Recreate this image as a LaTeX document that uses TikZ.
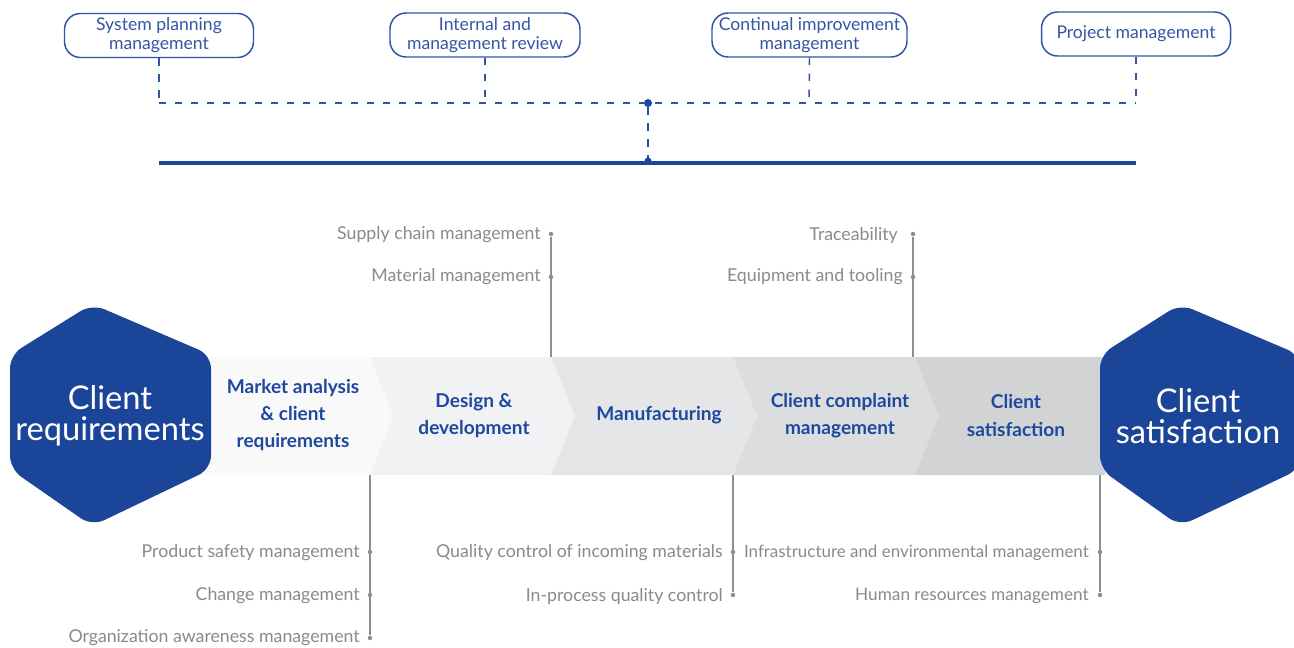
\documentclass[tikz,border=0pt]{standalone}
\usepackage{fontspec}
\setmainfont{Lato}
\definecolor{hexblue}{HTML}{1B4599}
\definecolor{boxblue}{HTML}{2C55A3}
\definecolor{toptext}{HTML}{3456A5}
\definecolor{bandtext}{HTML}{1E489E}
\definecolor{gline}{HTML}{8E8E8E}
\definecolor{gtext}{HTML}{8A8A8A}
\definecolor{segA}{HTML}{F9F9FA}
\definecolor{segB}{HTML}{F1F2F4}
\definecolor{segC}{HTML}{E5E6E8}
\definecolor{segD}{HTML}{DCDDDF}
\definecolor{segE}{HTML}{D2D3D5}
\tikzset{
  topbox/.style={draw=boxblue, line width=1.1pt, fill=white, rounded corners=12pt,
    align=center, text=toptext, inner sep=0pt, minimum height=44*0.75pt,
    font=\fontsize{13.2pt}{14.25pt}\selectfont},
  bdash/.style={draw=boxblue, line width=1.1pt, dash pattern=on 5.5pt off 6.5pt},
  bandlabel/.style={align=center, text=bandtext, font=\bfseries\fontsize{14.3pt}{20.6pt}\selectfont},
  hexlabel/.style={align=center, text=white, font=\fontsize{24.5pt}{23.5pt}\selectfont},
  gdot/.style={circle, fill=gline, inner sep=0pt, minimum size=4.5*0.75pt},
  glab/.style={anchor=east, text=gtext, inner sep=0pt, font=\fontsize{13.3pt}{15pt}\selectfont},
  glabs/.style={glab, font=\fontsize{12.7pt}{15pt}\selectfont},
  gl/.style={draw=gline, line width=1pt},
}
\begin{document}
\begin{tikzpicture}[x=0.75pt,y=-0.75pt]
\clip (0,0) rectangle (1294,648);
\fill[white] (0,0) rectangle (1294,648);

% ---- top boxes
\node[topbox, minimum width=189*0.75pt] (b1) at (159,35.5) {System planning\\management};
\node[topbox, minimum width=190*0.75pt] (b2) at (485,35) {Internal and\\management review};
\node[topbox, minimum width=195*0.75pt] (b3) at (809.5,35) {Continual improvement\\management};
\node[topbox, minimum width=189*0.75pt] (b4) at (1136,34) {Project management};

\coordinate (h1) at (159,103);
\coordinate (h2) at (485,103);
\coordinate (h3) at (809,103);
\coordinate (h4) at (1136,103);
\node[circle, fill=hexblue, inner sep=0pt, minimum size=8*0.75pt] (hub) at (648,103) {};
\coordinate (base) at (648,161);
\coordinate (tl) at (159,163);
\coordinate (tr) at (1136,163);

\draw[bdash] (b1.south) -- (h1);
\draw[bdash] (b2.south) -- (h2);
\draw[bdash] (b3.south) -- (h3);
\draw[bdash] (b4.south) -- (h4);
\draw[bdash] (h1) -- (h4);
\draw[bdash] (hub) -- (base);
\fill[hexblue] (base) circle (3.5);
\draw[hexblue, line width=3.2pt] (tl) -- (tr);

% ---- chevron band
\fill[segA] (205,357) -- (370,357) -- (393,416) -- (370,475) -- (205,475) -- cycle;
\fill[segB] (370,357) -- (551,357) -- (575,416) -- (551,475) -- (370,475) -- (393,416) -- cycle;
\fill[segC] (551,357) -- (733,357) -- (757,416) -- (733,475) -- (551,475) -- (575,416) -- cycle;
\fill[segD] (733,357) -- (915,357) -- (939,416) -- (915,475) -- (733,475) -- (757,416) -- cycle;
\fill[segE] (915,357) -- (1105,357) -- (1105,475) -- (915,475) -- (939,416) -- cycle;

\node[bandlabel] (s1) at (293,415) {Market analysis\\\& client\\requirements};
\node[bandlabel] (s2) at (474,415.5) {Design \&\\development};
\node[bandlabel] (s3) at (659,415) {Manufacturing};
\node[bandlabel] (s4) at (840,415.5) {Client complaint\\management};
\node[bandlabel] (s5) at (1016,415.5) {Client\\satisfaction};

% ---- hexagons
\fill[hexblue, rounded corners=10] (10,355) -- (92,304) -- (211,355) -- (211,469) -- (92,526) -- (10,469) -- cycle;
\fill[hexblue, rounded corners=10] (1100,355) -- (1180,304) -- (1300,355) -- (1300,469) -- (1180,526) -- (1100,469) -- cycle;
\node[hexlabel] (cr) at (110,416) {Client\\requirements};
\node[hexlabel] (cs) at (1198,416) {Client\\satisfaction};

% ---- upper gray branches
\coordinate (u1) at (551,357);
\node[gdot] (u1a) at (551,234) {};
\node[gdot] (u1b) at (551,277) {};
\draw[gl] (u1a) -- (u1);
\node[glab] (l1) at (541,235) {Supply chain management};
\node[glab] (l2) at (541,277) {Material management};

\coordinate (u2) at (913,357);
\node[gdot] (u2a) at (913,234) {};
\node[gdot] (u2b) at (913,277) {};
\draw[gl] (u2a) -- (u2);
\node[glab] (l3) at (898,235) {Traceability};
\node[glab] (l4) at (903,277) {Equipment and tooling};

% ---- lower gray branches
\coordinate (d1) at (370,475);
\node[gdot] (d1a) at (370,552) {};
\node[gdot] (d1b) at (370,595) {};
\node[gdot] (d1c) at (370,638) {};
\draw[gl] (d1) -- (d1c);
\node[glab] (l5) at (360,553) {Product safety management};
\node[glab] (l6) at (360,596) {Change management};
\node[glab] (l7) at (360,638) {Organization awareness management};

\coordinate (d2) at (733,475);
\node[gdot] (d2a) at (733,552) {};
\node[gdot] (d2b) at (733,595) {};
\draw[gl] (d2) -- (d2b);
\node[glab] (l8) at (723,553) {Quality control of incoming materials};
\node[glab] (l9) at (723,596) {In-process quality control};

\coordinate (d3) at (1100,475);
\node[gdot] (d3a) at (1100,552) {};
\node[gdot] (d3b) at (1100,595) {};
\draw[gl] (d3) -- (d3b);
\node[glabs] (l10) at (1089,553) {Infrastructure and environmental management};
\node[glabs, font=\fontsize{12.9pt}{15pt}\selectfont] (l11) at (1089,596) {Human resources management};
\end{tikzpicture}
\end{document}
